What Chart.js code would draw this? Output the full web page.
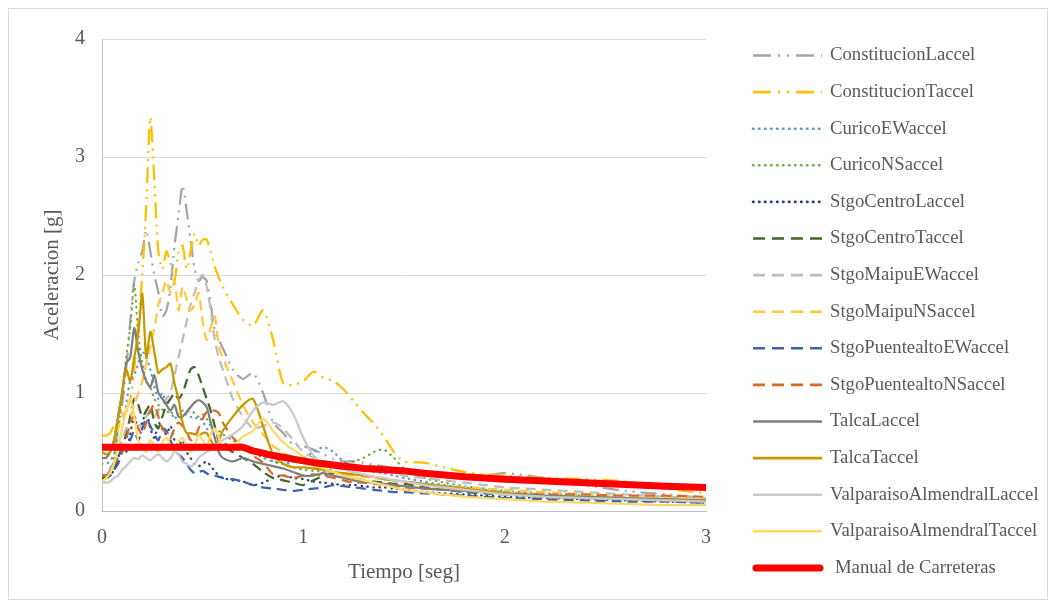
<!DOCTYPE html>
<html>
<head>
<meta charset="utf-8">
<script src="https://cdn.jsdelivr.net/npm/chart.js@4.4.0/dist/chart.umd.min.js"></script>
<style>
html,body{margin:0;padding:0;background:#ffffff;}
#wrap{position:relative;width:1052px;height:609px;}
</style>
</head>
<body>
<div id="wrap"><canvas id="c" width="1052" height="609"></canvas></div>
<script>
// ---- data (periods in seconds, spectral acceleration in g) ----
const periods = [0,0.02,0.04,0.06,0.08,0.1,0.12,0.14,0.16,0.18,
  0.2,0.22,0.24,0.26,0.28,0.3,0.32,0.34,0.36,0.38,
  0.4,0.42,0.44,0.46,0.48,0.5,0.52,0.54,0.56,0.58,
  0.6,0.65,0.7,0.75,0.8,0.85,0.9,0.95,1.0,1.05,
  1.1,1.15,1.2,1.25,1.3,1.35,1.4,1.45,1.5,1.6,
  1.7,1.8,1.9,2.0,2.2,2.4,2.6,2.8,3.0];

const constitucionL = [0.30,0.30,0.35,0.50,0.70,0.90,1.20,1.60,1.95,2.10,
  2.20,2.38,2.20,2.00,1.85,1.65,1.70,1.90,2.25,2.50,
  2.76,2.55,2.30,2.05,1.95,1.98,1.95,1.75,1.53,1.45,
  1.38,1.20,1.12,1.17,1.00,0.75,0.66,0.56,0.55,0.52,
  0.48,0.44,0.42,0.42,0.41,0.39,0.38,0.36,0.35,0.33,
  0.30,0.28,0.30,0.32,0.28,0.22,0.17,0.14,0.11];
const constitucionT = [0.64,0.64,0.66,0.72,0.74,0.78,0.85,0.95,1.20,1.60,
  2.00,2.60,3.34,2.80,2.20,2.05,2.20,2.10,1.95,2.20,
  2.25,2.05,2.20,2.35,2.25,2.30,2.30,2.20,2.07,1.98,
  1.90,1.75,1.62,1.57,1.70,1.45,1.08,1.07,1.10,1.18,
  1.13,1.10,1.03,0.93,0.83,0.74,0.63,0.50,0.42,0.41,
  0.37,0.33,0.31,0.30,0.28,0.27,0.25,0.19,0.15];
const curicoEW = [0.40,0.40,0.42,0.48,0.55,0.70,0.90,1.10,1.15,1.25,
  1.35,1.30,1.20,1.05,0.95,1.00,0.90,0.85,0.80,0.78,
  0.80,0.82,0.80,0.78,0.80,0.76,0.70,0.66,0.62,0.60,
  0.58,0.55,0.53,0.50,0.45,0.42,0.40,0.42,0.45,0.50,
  0.54,0.50,0.42,0.38,0.35,0.33,0.32,0.30,0.28,0.25,
  0.22,0.20,0.18,0.16,0.13,0.12,0.11,0.10,0.09];
const curicoNS = [0.30,0.30,0.32,0.45,0.70,0.95,1.30,1.55,1.92,1.50,
  1.25,1.10,1.05,0.95,0.90,0.86,0.85,0.82,0.80,0.82,
  0.85,0.84,0.85,0.83,0.80,0.82,0.78,0.72,0.70,0.68,
  0.65,0.60,0.55,0.50,0.47,0.42,0.40,0.37,0.35,0.34,
  0.34,0.36,0.40,0.42,0.45,0.50,0.52,0.45,0.36,0.28,
  0.24,0.21,0.19,0.17,0.15,0.13,0.11,0.10,0.09];
const stgoCentroL = [0.30,0.30,0.30,0.35,0.45,0.55,0.50,0.65,0.80,0.70,
  0.75,0.85,0.70,0.62,0.75,0.70,0.65,0.72,0.60,0.55,
  0.60,0.50,0.45,0.40,0.38,0.40,0.42,0.38,0.34,0.30,
  0.28,0.26,0.25,0.22,0.24,0.28,0.30,0.28,0.27,0.25,
  0.24,0.23,0.22,0.22,0.21,0.20,0.20,0.19,0.18,0.16,
  0.15,0.14,0.13,0.12,0.11,0.10,0.09,0.08,0.07];
const stgoCentroT = [0.28,0.28,0.30,0.35,0.45,0.55,0.65,0.80,0.95,0.90,
  0.80,0.85,0.90,0.75,0.70,0.80,0.90,0.95,1.00,0.95,
  1.00,1.10,1.20,1.22,1.15,1.05,0.95,0.85,0.72,0.60,
  0.55,0.50,0.45,0.40,0.33,0.28,0.26,0.24,0.22,0.26,
  0.30,0.32,0.30,0.28,0.26,0.25,0.24,0.23,0.23,0.20,
  0.18,0.16,0.15,0.14,0.12,0.11,0.10,0.09,0.08];
const stgoMaipuEW = [0.30,0.30,0.32,0.40,0.50,0.60,0.70,0.75,0.80,0.75,
  0.70,0.80,0.85,0.80,0.85,0.90,0.95,1.00,1.15,1.30,
  1.45,1.60,1.75,1.85,1.95,2.00,1.90,1.70,1.45,1.30,
  1.20,0.95,0.80,0.70,0.72,0.75,0.70,0.60,0.50,0.45,
  0.42,0.40,0.38,0.36,0.36,0.38,0.37,0.33,0.30,0.28,
  0.26,0.24,0.22,0.20,0.18,0.16,0.14,0.12,0.11];
const stgoMaipuNS = [0.45,0.45,0.50,0.60,0.70,0.80,0.85,0.80,0.90,1.00,
  1.10,1.25,1.40,1.55,1.75,1.85,1.95,1.85,1.95,1.70,
  1.90,1.80,1.70,1.75,1.85,1.60,1.45,1.55,1.65,1.40,
  1.30,1.10,0.90,0.75,0.65,0.55,0.50,0.45,0.42,0.38,
  0.35,0.33,0.32,0.30,0.29,0.28,0.27,0.26,0.25,0.23,
  0.21,0.20,0.19,0.18,0.16,0.14,0.12,0.11,0.10];
const stgoPuentealtoEW = [0.30,0.30,0.30,0.35,0.40,0.50,0.55,0.60,0.68,0.60,
  0.70,0.78,0.72,0.65,0.60,0.70,0.68,0.60,0.52,0.48,
  0.45,0.40,0.35,0.32,0.33,0.34,0.32,0.30,0.30,0.29,
  0.28,0.27,0.25,0.22,0.20,0.19,0.18,0.17,0.18,0.19,
  0.20,0.22,0.21,0.20,0.19,0.18,0.17,0.16,0.16,0.15,
  0.14,0.13,0.12,0.11,0.10,0.09,0.08,0.08,0.07];
const stgoPuentealtoNS = [0.30,0.30,0.32,0.40,0.45,0.50,0.60,0.75,0.80,0.70,
  0.65,0.75,0.85,0.90,0.80,0.70,0.65,0.62,0.70,0.75,
  0.72,0.68,0.60,0.62,0.70,0.78,0.84,0.85,0.85,0.83,
  0.75,0.62,0.55,0.47,0.41,0.31,0.30,0.28,0.30,0.31,
  0.30,0.28,0.26,0.24,0.24,0.23,0.22,0.21,0.20,0.19,
  0.18,0.17,0.16,0.15,0.14,0.14,0.13,0.13,0.12];
const talcaL = [0.45,0.45,0.50,0.60,0.80,1.00,1.25,1.30,1.55,1.35,
  1.20,1.10,1.05,1.15,1.00,0.95,0.90,0.85,0.90,0.80,
  0.80,0.84,0.88,0.92,0.94,0.92,0.88,0.75,0.62,0.50,
  0.45,0.42,0.45,0.42,0.40,0.38,0.36,0.33,0.30,0.30,
  0.32,0.30,0.28,0.26,0.25,0.24,0.23,0.22,0.21,0.19,
  0.18,0.17,0.16,0.15,0.13,0.12,0.11,0.10,0.09];
const talcaT = [0.50,0.48,0.50,0.60,0.80,1.00,1.20,1.10,1.30,1.50,
  1.84,1.30,1.52,1.35,1.17,1.20,1.22,1.25,1.08,0.95,
  0.75,0.66,0.66,0.65,0.64,0.66,0.66,0.60,0.55,0.60,
  0.68,0.80,0.90,0.95,0.72,0.48,0.40,0.37,0.37,0.36,
  0.35,0.33,0.32,0.31,0.30,0.29,0.27,0.26,0.25,0.23,
  0.21,0.19,0.17,0.15,0.12,0.11,0.10,0.09,0.08];
const valparaisoL = [0.25,0.24,0.25,0.28,0.30,0.35,0.38,0.42,0.45,0.44,
  0.47,0.45,0.43,0.46,0.48,0.45,0.42,0.45,0.50,0.48,
  0.42,0.40,0.38,0.40,0.45,0.48,0.50,0.52,0.55,0.58,
  0.60,0.65,0.72,0.85,0.92,0.90,0.93,0.82,0.62,0.47,
  0.40,0.37,0.35,0.33,0.31,0.29,0.28,0.26,0.25,0.22,
  0.20,0.18,0.16,0.14,0.12,0.11,0.10,0.09,0.08];
const valparaisoT = [0.25,0.28,0.32,0.40,0.55,0.70,0.85,0.95,0.80,0.60,
  0.55,0.50,0.60,0.55,0.50,0.58,0.62,0.55,0.50,0.58,
  0.62,0.55,0.50,0.55,0.65,0.60,0.55,0.65,0.70,0.62,
  0.55,0.55,0.63,0.68,0.78,0.68,0.58,0.52,0.46,0.40,
  0.36,0.33,0.30,0.28,0.26,0.24,0.22,0.20,0.18,0.16,
  0.14,0.12,0.11,0.10,0.08,0.07,0.06,0.05,0.05];
const manualCarreteras = [0.54,0.54,0.54,0.54,0.54,0.54,0.54,0.54,0.54,0.54,
  0.54,0.54,0.54,0.54,0.54,0.54,0.54,0.54,0.54,0.54,
  0.54,0.54,0.54,0.54,0.54,0.54,0.54,0.54,0.54,0.54,
  0.54,0.54,0.54,0.51,0.49,0.47,0.455,0.44,0.425,0.41,
  0.40,0.39,0.38,0.37,0.36,0.355,0.35,0.345,0.34,0.32,
  0.305,0.29,0.28,0.27,0.255,0.24,0.225,0.21,0.20];

const seriesNames = ['ConstitucionLaccel','ConstitucionTaccel','CuricoEWaccel','CuricoNSaccel',
  'StgoCentroLaccel','StgoCentroTaccel','StgoMaipuEWaccel','StgoMaipuNSaccel',
  'StgoPuentealtoEWaccel','StgoPuentealtoNSaccel','TalcaLaccel','TalcaTaccel',
  'ValparaisoAlmendralLaccel','ValparaisoAlmendralTaccel','Manual de Carreteras'];
const seriesValues = [constitucionL, constitucionT, curicoEW, curicoNS, stgoCentroL, stgoCentroT,
  stgoMaipuEW, stgoMaipuNS, stgoPuentealtoEW, stgoPuentealtoNS, talcaL, talcaT,
  valparaisoL, valparaisoT, manualCarreteras];
const yTicks = [0,1,2,3,4];
const xTicks = [0,1,2,3];

// ---- styles ----
const LDD = [16,6,2,6,2,6], LDD_LEG = [18,7,2,7,2,7];
const DOT = [0.5,5.5], DASH = [10,6], DASH_LEG = [12,7];
const styles = [
  {c:'#A5A5A5', d:LDD, ld:LDD_LEG, cap:'butt'},
  {c:'#FFC000', d:LDD, ld:LDD_LEG, cap:'butt'},
  {c:'#5B9BD5', d:DOT, ld:DOT, cap:'round'},
  {c:'#70AD47', d:DOT, ld:DOT, cap:'round'},
  {c:'#264478', d:DOT, ld:DOT, cap:'round'},
  {c:'#43682B', d:DASH, ld:DASH_LEG, cap:'butt'},
  {c:'#BDBDBD', d:DASH, ld:DASH_LEG, cap:'butt'},
  {c:'#FFC83D', d:DASH, ld:DASH_LEG, cap:'butt'},
  {c:'#3B64AD', d:DASH, ld:DASH_LEG, cap:'butt'},
  {c:'#D86B28', d:DASH, ld:DASH_LEG, cap:'butt'},
  {c:'#7F7F7F', d:[], ld:[], cap:'butt'},
  {c:'#C59800', d:[], ld:[], cap:'butt'},
  {c:'#C9C9C9', d:[], ld:[], cap:'butt'},
  {c:'#FFD966', d:[], ld:[], cap:'butt'},
  {c:'#FF0000', d:[], ld:[], cap:'round', w:7}
];

const datasets = seriesNames.map((name, i) => ({
  label: name,
  data: periods.map((p, k) => ({x: p, y: seriesValues[i][k]})),
  borderColor: styles[i].c,
  backgroundColor: styles[i].c,
  borderDash: styles[i].d,
  legendDash: styles[i].ld,
  borderCapStyle: styles[i].cap,
  borderWidth: styles[i].w || 2.25,
  pointRadius: 0,
  tension: i === 14 ? 0 : 0.25,
  fill: false,
  order: 100 - i
}));

const FONT = "'Liberation Serif', 'Times New Roman', serif";
const TXT = '#595959';

const framePlugin = {
  id: 'frame',
  beforeDraw(chart) {
    const ctx = chart.ctx;
    ctx.save();
    ctx.fillStyle = '#ffffff';
    ctx.fillRect(0, 0, chart.width, chart.height);
    ctx.strokeStyle = '#D9D9D9';
    ctx.lineWidth = 1;
    ctx.strokeRect(8.5, 8.5, 1039, 591);
    ctx.restore();
  }
};

const legendPlugin = {
  id: 'sideLegend',
  afterDraw(chart) {
    const ctx = chart.ctx;
    const x0 = chart.chartArea.right + 47;
    ctx.save();
    chart.data.datasets.forEach((ds, i) => {
      const y = 55.5 + i * 36.6;
      ctx.beginPath();
      ctx.setLineDash(ds.legendDash || []);
      ctx.lineWidth = i === 14 ? 7 : 2.6;
      ctx.lineCap = ds.borderCapStyle;
      ctx.strokeStyle = ds.borderColor;
      ctx.moveTo(x0 + (i === 14 ? 3 : 0), y);
      ctx.lineTo(x0 + (i === 14 ? 67 : 69), y);
      ctx.stroke();
      ctx.setLineDash([]);
      ctx.fillStyle = TXT;
      ctx.font = '18.7px ' + FONT;
      ctx.textBaseline = 'middle';
      ctx.textAlign = 'left';
      ctx.fillText(ds.label, x0 + (i === 14 ? 82 : 77), y);
    });
    ctx.restore();
  }
};

new Chart(document.getElementById('c'), {
  type: 'line',
  data: { datasets },
  options: {
    responsive: false,
    animation: false,
    devicePixelRatio: 1,
    layout: { padding: { left: 0, top: 39, right: 346, bottom: 0 } },
    plugins: { legend: { display: false }, tooltip: { enabled: false } },
    scales: {
      x: {
        type: 'linear', min: 0, max: 3,
        afterFit(s) { s.height = 98; },
        afterBuildTicks(s) { s.ticks = xTicks.map(v => ({value: v})); },
        grid: { display: false, drawTicks: false },
        border: { display: true, color: '#BFBFBF', width: 1 },
        ticks: { padding: 15, color: TXT, font: { family: FONT, size: 20 } },
        title: { display: true, text: 'Tiempo [seg]', color: TXT, font: { family: FONT, size: 21 }, padding: { top: 0, bottom: 24 } }
      },
      y: {
        type: 'linear', min: 0, max: 4,
        afterFit(s) { s.width = 102; },
        afterBuildTicks(s) { s.ticks = yTicks.map(v => ({value: v})); },
        grid: { color: '#D9D9D9', drawTicks: false, lineWidth: 1 },
        border: { display: true, color: '#BFBFBF', width: 1 },
        ticks: { padding: 17, color: TXT, font: { family: FONT, size: 20 } },
        title: { display: true, text: 'Aceleracion [g]', color: TXT, font: { family: FONT, size: 21 }, padding: { top: 40, bottom: 0 } }
      }
    }
  },
  plugins: [framePlugin, legendPlugin]
});
</script>
</body>
</html>
